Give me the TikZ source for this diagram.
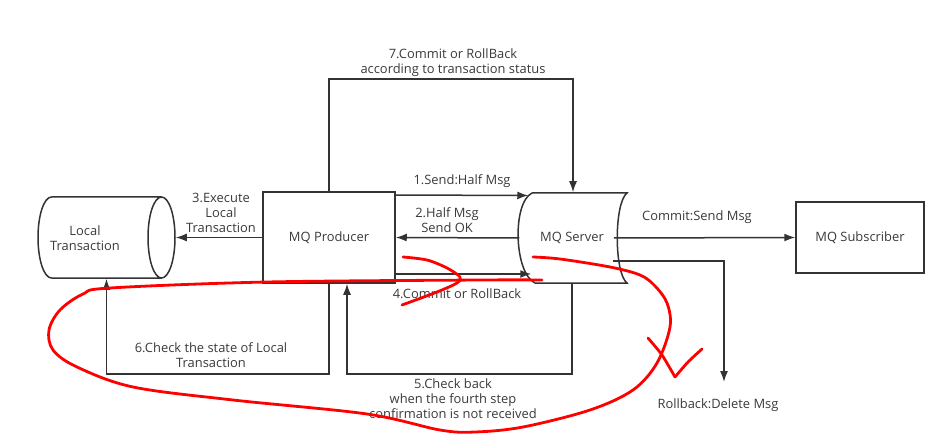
\documentclass[tikz,border=0pt]{standalone}
\usepackage{fontspec}
\setmainfont{Open Sans}
\usepackage{tikz}
\usetikzlibrary{shapes}
\usetikzlibrary{arrows.meta}
\definecolor{ln}{HTML}{333333}
\definecolor{tx}{HTML}{3A3A3A}

\begin{document}
\begin{tikzpicture}[x=1pt,y=-1pt,line width=1.5pt,
    arr/.style={draw=ln,-{Latex[length=11pt,width=8pt]}},
    lbl/.style={text=tx,align=center,font=\fontsize{12.9}{15}\selectfont,inner sep=0pt},
    box/.style={draw=ln,text=tx,font=\fontsize{12.9}{15}\selectfont,inner sep=0pt},
    pen/.style={red,line width=2.8pt,line cap=round,line join=round}]
  \useasboundingbox (0,0) rectangle (952,438);
  % the four parties
  \node[box,minimum width=132pt,minimum height=91pt] (prod) at (329,237.5) {MQ Producer};
  \node[box,minimum width=128pt,minimum height=71pt] (sub) at (860,237.5) {MQ Subscriber};
  \node[inner sep=0pt,minimum width=137pt,minimum height=81pt] (lt) at (106.5,237.5) {};
  \draw[ln] (51.5,197) -- (161.5,197) (51.5,278) -- (161.5,278)
    (51.5,278) arc[start angle=90,end angle=270,x radius=13.5,y radius=40.5]
    (161.5,237.5) ellipse[x radius=13.5,y radius=40.5];
  \node[lbl] (ltx) at (85,238) {Local\\Transaction};
  \node[lbl,minimum width=96pt,minimum height=90pt] (srv) at (572,238) {MQ Server};
  \draw[ln] (532,193) -- (627,193) .. controls (614,203) and (614,273) .. (627,283)
    -- (535,283) .. controls (514,273) and (512,203) .. (532,193);

  % messages
  \draw[arr] ([yshift=42.5pt]prod.east) -- ([yshift=42.5pt,xshift=5pt]srv.west) node[lbl,midway,above=7pt] {1.Send:Half Msg};
  \draw[arr] ([xshift=-4pt]srv.west) -- (prod.east);
  \node[lbl] (l2) at (447,220.5) {2.Half Msg\\Send OK};
  \draw[arr] (prod.west) -- (lt.east);
  \node[lbl] (l3) at (221,212.5) {3.Execute\\Local\\Transaction};
  \draw[arr] ([yshift=-36.5pt]prod.east) -- ([yshift=-36pt,xshift=8pt]srv.west);
  \node[lbl] (l4) at (457,294) {4.Commit or RollBack};
  \draw[arr] (srv.south) -- ++(0,90) -| ([xshift=18pt]prod.south);
  \node[lbl] (l5) at (453,399) {5.Check back\\when the fourth step\\confirmation is not received};
  \draw[arr] (prod.south) -- ++(0,90) -| (lt.south);
  \node[lbl] (l6) at (211,355.5) {6.Check the state of Local\\Transaction};
  \draw[arr] (prod.north) -- ++(0,-112) -| ([xshift=1pt]srv.north);
  \node[lbl] (l7) at (453,62.5) {7.Commit or RollBack\\according to transaction status};
  \draw[arr] ([xshift=-7pt]srv.east) -- (sub.west);
  \node[lbl] (cs) at (697,217) {Commit:Send Msg};
  \node[lbl] (rb) at (718,405) {Rollback:Delete Msg};
  \coordinate (rbend) at (724,382);
  \draw[arr] ([yshift=-23pt,xshift=-8pt]srv.east) -| (rbend);

  % red pen marks
  \draw[pen] plot[smooth,tension=0.55] coordinates {(533,257) (560,259) (610,267) (640,275) (655,286)
    (667,303) (670,327) (657,363) (633,390) (590,410) (523,427) (475,432) (440,430) (367,414)
    (233,400) (133,387) (77,367) (53,350) (49,330) (60,310) (83,294) (110,288) (267,282) (480,280) (542,280)};
  \draw[pen] plot[smooth,tension=0.5] coordinates {(403,257) (427,260) (447,268) (460,277) (457,283)
    (437,292) (402,305)};
  \draw[pen] plot[smooth,tension=0.4] coordinates {(648,338) (662,355) (675,377)};
  \draw[pen] plot[smooth,tension=0.4] coordinates {(675,377) (688,362) (702,349)};
\end{tikzpicture}
\end{document}
